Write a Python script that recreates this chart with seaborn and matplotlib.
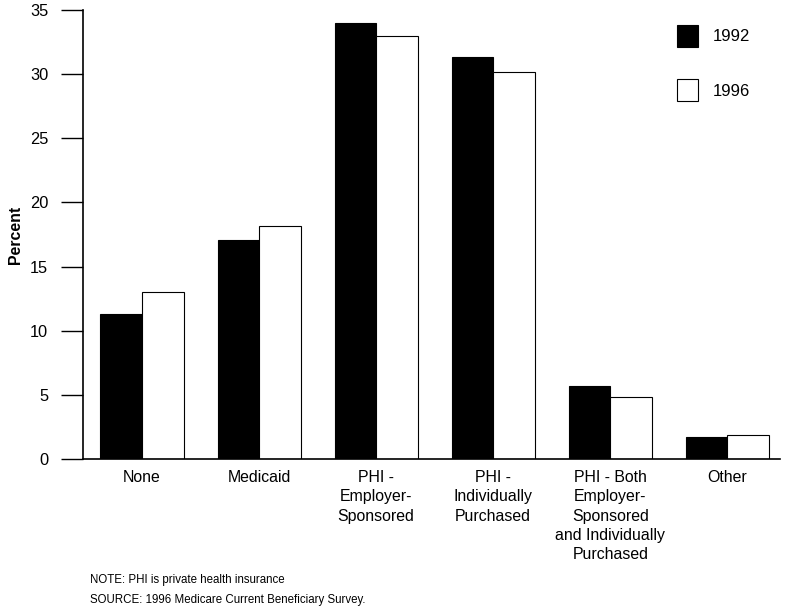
import matplotlib.pyplot as plt
import pandas as pd
import seaborn as sns

categories = [
    "None",
    "Medicaid",
    "PHI -\nEmployer-\nSponsored",
    "PHI -\nIndividually\nPurchased",
    "PHI - Both\nEmployer-\nSponsored\nand Individually\nPurchased",
    "Other",
]
years = ["1992", "1996"]
pct_1992 = [11.3, 17.1, 34.0, 31.3, 5.7, 1.75]
pct_1996 = [13.0, 18.2, 33.0, 30.2, 4.8, 1.85]
y_ticks = [0, 5, 10, 15, 20, 25, 30, 35]

df = pd.DataFrame({
    "category": categories * 2,
    "percent": pct_1992 + pct_1996,
    "year": [years[0]] * len(categories) + [years[1]] * len(categories),
})

sns.set_style("ticks", {"text.color": "black", "axes.labelcolor": "black",
                        "xtick.color": "black", "ytick.color": "black",
                        "axes.edgecolor": "black"})
plt.rcParams["font.family"] = ["Liberation Sans", "DejaVu Sans"]

fig = plt.figure(figsize=(7.89, 6.11), dpi=100)
ax = fig.add_axes([83 / 789, 1 - 459 / 611, (780 - 83) / 789, (459 - 10) / 611])

sns.barplot(data=df, x="category", y="percent", hue="year",
            palette=["black", "white"], edgecolor="black", linewidth=0.8,
            width=0.71, saturation=1, ax=ax)

ax.set_ylim(0, 35)
ax.set_xlim(-0.504, 5.45)
ax.set_yticks(y_ticks)
ax.set_yticklabels([str(t) for t in y_ticks], fontsize=11.8)
ax.tick_params(axis="y", direction="out", length=16, width=1, pad=9)
ax.tick_params(axis="x", length=0, pad=8, labelsize=11.4)
for lbl in ax.get_xticklabels():
    lbl.set_linespacing(1.35)
    lbl.set_verticalalignment("top")
ax.set_xlabel("")
ax.set_ylabel("Percent", fontsize=11.4, fontweight="bold", labelpad=5)
sns.despine(ax=ax)
for side in ["left", "bottom"]:
    ax.spines[side].set_linewidth(1.2)

ax.legend(loc="upper left", bbox_to_anchor=(0.83, 1.0), frameon=False,
          fontsize=12, handlelength=1.3, handleheight=1.65, labelspacing=1.95,
          handletextpad=0.9)

fig.text(90 / 789, 1 - 580 / 611, "NOTE: PHI is private health insurance",
         fontsize=8.3, va="center")
fig.text(90 / 789, 1 - 600 / 611, "SOURCE: 1996 Medicare Current Beneficiary Survey.",
         fontsize=8.3, va="center")

fig.savefig("out.png", dpi=100)
